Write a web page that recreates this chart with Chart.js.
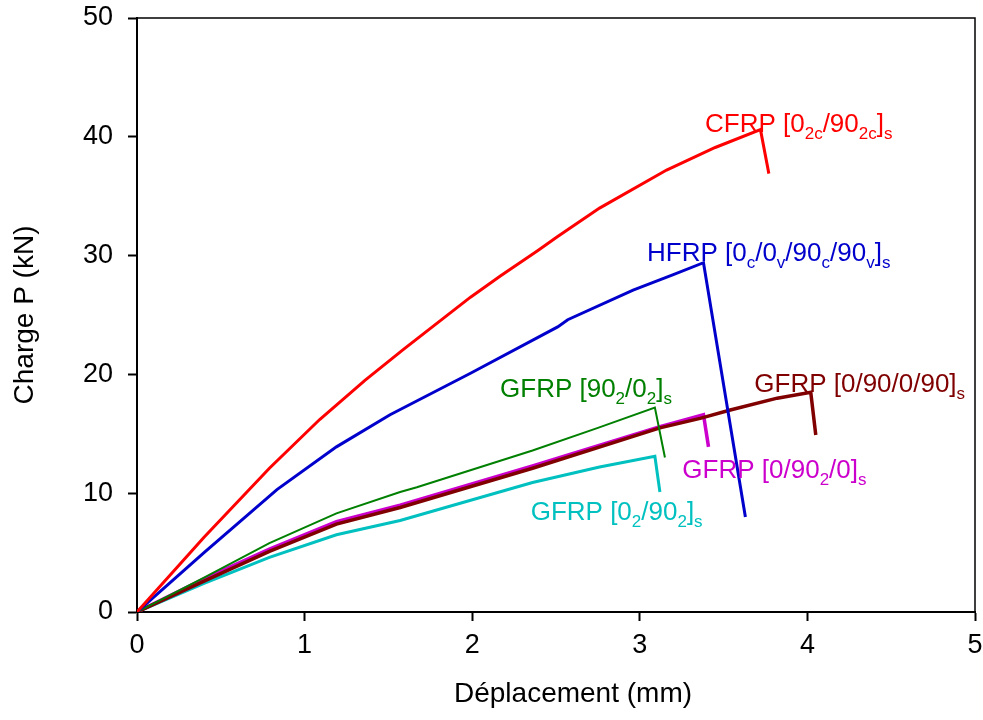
<!DOCTYPE html>
<html>
<head>
    <meta charset="utf-8" />
    <title>Charge - Déplacement</title>
    <script src="https://cdn.jsdelivr.net/npm/chart.js@4.4.0/dist/chart.umd.min.js"></script>
    <style>
        body, html {
            background: white;
            margin: 0;
            padding: 0;
            overflow: hidden;
        }
        #chartContainer {
            width: 983px;
            height: 720px;
        }
    </style>
</head>
<body>
    <div id="chartContainer">
        <canvas id="myChart" width="983" height="720"></canvas>
    </div>

    <script>
        // displacement (mm) and load (kN)
        const cfrpX = [0, 0.40, 0.79, 1.09, 1.36, 1.59, 1.99, 2.17, 2.39, 2.51, 2.76, 3.16, 3.45, 3.72, 3.77];
        const cfrpY = [0, 6.3, 12.1, 16.2, 19.5, 22.1, 26.5, 28.3, 30.4, 31.6, 34.0, 37.2, 39.1, 40.6, 36.9];

        const hfrpX = [0, 0.40, 0.835, 1.19, 1.51, 1.99, 2.51, 2.57, 2.96, 3.20, 3.38, 3.63];
        const hfrpY = [0, 5.0, 10.3, 13.9, 16.6, 20.1, 24.0, 24.6, 27.1, 28.4, 29.4, 8.0];

        const g90X = [0, 0.40, 0.79, 1.19, 1.57, 1.67, 2.36, 2.75, 3.09, 3.15];
        const g90Y = [0, 2.9, 5.8, 8.3, 10.1, 10.5, 13.6, 15.5, 17.2, 13.0];

        const g0902X = [0, 0.40, 0.79, 1.19, 1.57, 2.36, 3.12, 3.38, 3.41];
        const g0902Y = [0, 2.8, 5.3, 7.6, 9.0, 12.3, 15.6, 16.6, 13.9];

        const g0909X = [0, 0.40, 0.79, 1.19, 1.57, 2.36, 3.12, 3.36, 3.54, 3.82, 4.02, 4.05];
        const g0909Y = [0, 2.6, 5.1, 7.4, 8.8, 12.1, 15.5, 16.3, 17.0, 18.0, 18.5, 14.9];

        const g02X = [0, 0.40, 0.79, 1.19, 1.57, 2.36, 2.76, 3.09, 3.12];
        const g02Y = [0, 2.4, 4.6, 6.5, 7.7, 10.9, 12.2, 13.1, 10.1];

        // curve labels, _{...} is a subscript
        const labelText = [
            'CFRP [0_{2c}/90_{2c}]_{s}',
            'HFRP [0_{c}/0_{v}/90_{c}/90_{v}]_{s}',
            'GFRP [90_{2}/0_{2}]_{s}',
            'GFRP [0/90/0/90]_{s}',
            'GFRP [0/90_{2}/0]_{s}',
            'GFRP [0_{2}/90_{2}]_{s}'
        ];
        const labelX = [3.389, 3.043, 2.166, 3.683, 3.254, 2.349];
        const labelY = [40.4, 29.55, 18.07, 18.54, 11.25, 7.74];

        const xTicks = [0, 1, 2, 3, 4, 5];
        const yTicks = [0, 10, 20, 30, 40, 50];
        const xTitle = 'Déplacement (mm)';
        const yTitle = 'Charge P (kN)';

        const FONT = "'Liberation Sans', Arial, sans-serif";

        function pts(xs, ys) {
            return xs.map((x, i) => ({ x: x, y: ys[i] }));
        }

        function parseLabel(str) {
            const parts = [];
            const re = /_\{([^}]*)\}/g;
            let last = 0, m;
            while ((m = re.exec(str))) {
                if (m.index > last) parts.push({ t: str.slice(last, m.index), sub: false });
                parts.push({ t: m[1], sub: true });
                last = re.lastIndex;
            }
            if (last < str.length) parts.push({ t: str.slice(last), sub: false });
            return parts;
        }

        const series = [
            { label: labelText[0], data: pts(cfrpX, cfrpY), color: '#FF0000', w: 3, order: 1 },
            { label: labelText[1], data: pts(hfrpX, hfrpY), color: '#0000CC', w: 3, order: 2 },
            { label: labelText[2], data: pts(g90X, g90Y), color: '#008000', w: 2, order: 3 },
            { label: labelText[3], data: pts(g0909X, g0909Y), color: '#800000', w: 3.5, order: 4 },
            { label: labelText[4], data: pts(g0902X, g0902Y), color: '#CC00CC', w: 3.5, order: 5 },
            { label: labelText[5], data: pts(g02X, g02Y), color: '#00C0C0', w: 3, order: 6 }
        ];

        // box on top and right, x title, labels next to the curves
        const framePlugin = {
            id: 'frame',
            afterDatasetsDraw(chart) {
                const { ctx, chartArea: a, scales } = chart;
                ctx.save();
                ctx.strokeStyle = 'black';
                ctx.lineWidth = 1.5;
                ctx.beginPath();
                ctx.moveTo(a.left, a.top);
                ctx.lineTo(a.right, a.top);
                ctx.lineTo(a.right, a.bottom);
                ctx.stroke();

                // x title sits a little right of the axis middle in the original
                ctx.fillStyle = 'black';
                ctx.font = '28px ' + FONT;
                ctx.textAlign = 'center';
                ctx.textBaseline = 'middle';
                ctx.fillText(xTitle, (a.left + a.right) / 2 + 17, a.bottom + 82);

                ctx.textBaseline = 'alphabetic';
                ctx.textAlign = 'left';
                labelText.forEach((txt, i) => {
                    let x = scales.x.getPixelForValue(labelX[i]);
                    const y = scales.y.getPixelForValue(labelY[i]);
                    ctx.fillStyle = series[i].color;
                    parseLabel(txt).forEach(p => {
                        ctx.font = (p.sub ? '17px ' : '26px ') + FONT;
                        ctx.fillText(p.t, x, p.sub ? y + 7 : y);
                        x += ctx.measureText(p.t).width;
                    });
                });
                ctx.restore();
            }
        };

        const config = {
            type: 'scatter',
            data: {
                datasets: series.map(s => ({
                    label: s.label,
                    data: s.data,
                    showLine: true,
                    borderColor: s.color,
                    backgroundColor: s.color,
                    borderWidth: s.w,
                    pointRadius: 0,
                    tension: 0,
                    order: s.order
                }))
            },
            options: {
                responsive: false,
                animation: false,
                layout: { padding: { top: 18, right: 8, left: 0, bottom: 0 } },
                plugins: {
                    legend: { display: false },
                    tooltip: { enabled: false }
                },
                scales: {
                    x: {
                        type: 'linear',
                        min: 0,
                        max: 5,
                        afterBuildTicks: s => { s.ticks = xTicks.map(v => ({ value: v })); },
                        afterFit: s => {
                            s.height = 108;
                            s.paddingLeft = 0;
                            s.paddingRight = 0;
                        },
                        grid: { drawOnChartArea: false, drawTicks: true, tickLength: 9, tickColor: 'black', tickWidth: 2 },
                        border: { display: true, color: 'black', width: 2 },
                        ticks: { color: 'black', padding: 8, font: { family: FONT, size: 27 }, maxRotation: 0 },
                        title: { display: false }
                    },
                    y: {
                        type: 'linear',
                        min: 0,
                        max: 50,
                        afterBuildTicks: s => { s.ticks = yTicks.map(v => ({ value: v })); },
                        afterFit: s => {
                            s.width = 137;
                            s.paddingTop = 0;
                            s.paddingBottom = 0;
                        },
                        grid: { drawOnChartArea: false, drawTicks: true, tickLength: 9, tickColor: 'black', tickWidth: 2 },
                        border: { display: true, color: 'black', width: 2 },
                        ticks: { color: 'black', padding: 15, font: { family: FONT, size: 27 } },
                        title: { display: true, text: yTitle, color: 'black', font: { family: FONT, size: 28 }, padding: { top: 8, bottom: 0 } }
                    }
                }
            },
            plugins: [framePlugin]
        };

        const ctx = document.getElementById('myChart').getContext('2d');
        const myChart = new Chart(ctx, config);
    </script>
</body>
</html>
